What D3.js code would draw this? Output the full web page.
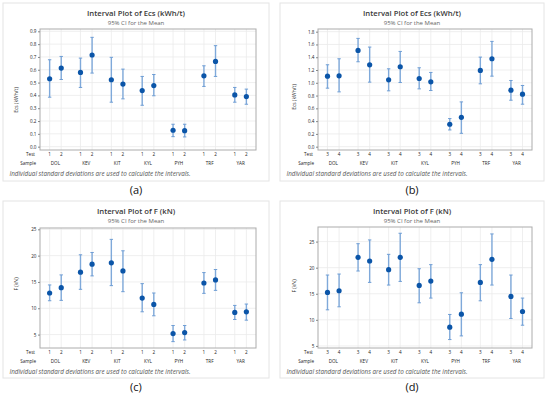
<!DOCTYPE html>
<html lang="en">
<head>
<script type="text/javascript" src="https://cdnjs.cloudflare.com/ajax/libs/d3/7.8.5/d3.min.js"></script>
<style>
    body { margin: 0; background: #fff; }
    text { font-family: "Open Sans", "Noto Sans", sans-serif; }
</style>
</head>
<body>
<div id="container"></div>
<script type="text/javascript">
    var w = 550;
    var h = 395;

    var samples = ["DOL", "KEV", "KIT", "KYL", "PYH", "TRF", "YAR"];
    var testsLeft = ["1", "2"];
    var testsRight = ["3", "4"];

    // (a) Ecs, tests 1-2
    var ecsMeanA  = [0.530, 0.613, 0.579, 0.715, 0.522, 0.488, 0.438, 0.477, 0.128, 0.125, 0.553, 0.665, 0.404, 0.391];
    var ecsLowA   = [0.386, 0.524, 0.462, 0.574, 0.347, 0.373, 0.323, 0.397, 0.078, 0.076, 0.470, 0.548, 0.347, 0.331];
    var ecsHighA  = [0.678, 0.704, 0.691, 0.853, 0.697, 0.605, 0.548, 0.563, 0.175, 0.175, 0.631, 0.788, 0.462, 0.449];
    var ecsTicksA = [0.0, 0.1, 0.2, 0.3, 0.4, 0.5, 0.6, 0.7, 0.8, 0.9];

    // (b) Ecs, tests 3-4
    var ecsMeanB  = [1.104, 1.109, 1.507, 1.282, 1.047, 1.251, 1.067, 1.015, 0.351, 0.460, 1.193, 1.376, 0.884, 0.822];
    var ecsLowB   = [0.916, 0.858, 1.329, 1.010, 0.874, 1.005, 0.905, 0.879, 0.262, 0.209, 0.984, 1.104, 0.727, 0.665];
    var ecsHighB  = [1.282, 1.376, 1.695, 1.559, 1.219, 1.491, 1.235, 1.162, 0.440, 0.701, 1.402, 1.648, 1.036, 0.958];
    var ecsTicksB = [0.0, 0.2, 0.4, 0.6, 0.8, 1.0, 1.2, 1.4, 1.6, 1.8];

    // (c) F, tests 1-2
    var fMeanC  = [12.90, 13.92, 16.85, 18.38, 18.63, 17.10, 11.94, 10.73, 5.19, 5.38, 14.80, 15.38, 9.20, 9.33];
    var fLowC   = [11.43, 11.50, 13.60, 16.15, 14.30, 13.15, 9.33, 8.57, 3.66, 3.98, 12.83, 13.40, 7.87, 7.74];
    var fHighC  = [14.43, 16.34, 20.16, 20.60, 23.09, 20.92, 14.68, 12.90, 6.72, 6.72, 16.78, 17.36, 10.54, 10.80];
    var fTicksC = [5, 10, 15, 20, 25];

    // (d) F, tests 3-4
    var fMeanD  = [15.26, 15.58, 21.99, 21.28, 19.62, 21.99, 16.60, 17.44, 8.59, 11.09, 17.18, 21.60, 14.49, 11.60];
    var fLowD   = [11.92, 12.50, 19.36, 17.18, 16.67, 17.37, 13.27, 14.17, 6.22, 6.92, 13.65, 16.67, 10.26, 8.97];
    var fHighD  = [18.59, 18.78, 24.60, 25.32, 22.56, 26.60, 19.80, 20.58, 11.03, 15.19, 20.58, 26.47, 18.59, 14.17];
    var fTicksD = [5, 10, 15, 20, 25];

    var panels = [
        {box: [3, 3, 269, 181], plot: [40, 29, 256, 150], labY: 100, title: "Interval Plot of Ecs (kWh/t)", ylab: "Ecs (kWh/t)",
         tests: testsLeft, mean: ecsMeanA, lo: ecsLowA, hi: ecsHighA, ticks: ecsTicksA, dom: [-0.026, 0.918], fmt: d3.format(".1f"), cap: "(a)"},
        {box: [280, 3, 544, 181], plot: [318, 29, 532, 150], labY: 97, title: "Interval Plot of Ecs (kWh/t)", ylab: "Ecs (kWh/t)",
         tests: testsRight, mean: ecsMeanB, lo: ecsLowB, hi: ecsHighB, ticks: ecsTicksB, dom: [-0.052, 1.842], fmt: d3.format(".1f"), cap: "(b)"},
        {box: [3, 201, 269, 378], plot: [40, 228, 256, 348], labY: 284, title: "Interval Plot of F (kN)", ylab: "F (kN)",
         tests: testsLeft, mean: fMeanC, lo: fLowC, hi: fHighC, ticks: fTicksC, dom: [2.45, 25.25], fmt: d3.format("d"), cap: "(c)"},
        {box: [280, 201, 544, 378], plot: [318, 227, 532, 348], labY: 286, title: "Interval Plot of F (kN)", ylab: "F (kN)",
         tests: testsRight, mean: fMeanD, lo: fLowD, hi: fHighD, ticks: fTicksD, dom: [4.6, 27.8], fmt: d3.format("d"), cap: "(d)"}
    ];

    var svg = d3.select("#container")
                .append("svg")
                .attr("width", w)
                .attr("height", h);

    panels.forEach(function(p) {
        var g = svg.append("g");
        var bx = p.box, pl = p.plot;

        g.append("rect")
            .attr("x", bx[0]).attr("y", bx[1])
            .attr("width", bx[2] - bx[0]).attr("height", bx[3] - bx[1])
            .attr("fill", "#fff").attr("stroke", "#e4e4e4").attr("stroke-width", 1);

        var cx = (bx[0] + bx[2]) / 2;
        g.append("text")
            .attr("x", cx).attr("y", bx[1] + 13)
            .attr("text-anchor", "middle")
            .attr("font-size", 7.7).attr("font-weight", 600)
            .attr("fill", "#3a3a3a")
            .text(p.title);
        g.append("text")
            .attr("x", cx).attr("y", bx[1] + 22)
            .attr("text-anchor", "middle")
            .attr("font-size", 6)
            .attr("fill", "#666")
            .text("95% CI for the Mean");

        var groups = d3.scaleBand().domain(samples).range([pl[0], pl[2]]);
        var inner = d3.scalePoint().domain(p.tests).range([-5.8, 5.8]);
        var y = d3.scaleLinear().domain(p.dom).range([pl[3], pl[1]]);

        var pts = [];
        samples.forEach(function(s, i) {
            p.tests.forEach(function(t, j) {
                var k = i * 2 + j;
                pts.push({s: s, t: t, m: p.mean[k], lo: p.lo[k], hi: p.hi[k]});
            });
        });
        function px(d) { return groups(d.s) + groups.bandwidth() / 2 + inner(d.t); }

        // gridlines
        g.selectAll(".hg").data(p.ticks).enter().append("line")
            .attr("x1", pl[0]).attr("x2", pl[2])
            .attr("y1", function(d) { return y(d); }).attr("y2", function(d) { return y(d); })
            .attr("stroke", "#ebebeb").attr("stroke-width", 0.8);
        g.selectAll(".vg").data(pts).enter().append("line")
            .attr("x1", px).attr("x2", px)
            .attr("y1", pl[1]).attr("y2", pl[3])
            .attr("stroke", "#ebebeb").attr("stroke-width", 0.8);

        g.append("rect")
            .attr("x", pl[0]).attr("y", pl[1])
            .attr("width", pl[2] - pl[0]).attr("height", pl[3] - pl[1])
            .attr("fill", "none").attr("stroke", "#acacac").attr("stroke-width", 1);

        // y axis
        var yAxis = d3.axisLeft(y).tickValues(p.ticks).tickFormat(p.fmt).tickSize(2).tickPadding(1.5);
        var ya = g.append("g").attr("transform", "translate(" + pl[0] + ",0)").call(yAxis);
        ya.select(".domain").remove();
        ya.selectAll("line").attr("stroke", "#888");
        ya.selectAll("text").attr("font-size", 4.6).attr("fill", "#222")
            .attr("font-family", "'Open Sans', sans-serif");

        g.append("text")
            .attr("transform", "translate(" + (pl[0] - 22) + "," + p.labY + ") rotate(-90)")
            .attr("text-anchor", "middle")
            .attr("font-size", 5).attr("fill", "#333")
            .text(p.ylab);

        // error bars
        var eb = g.selectAll(".eb").data(pts).enter().append("g");
        eb.append("line")
            .attr("x1", px).attr("x2", px)
            .attr("y1", function(d) { return y(d.lo); }).attr("y2", function(d) { return y(d.hi); })
            .attr("stroke", "#7fa9da").attr("stroke-width", 1.4);
        eb.append("line")
            .attr("x1", function(d) { return px(d) - 1.7; }).attr("x2", function(d) { return px(d) + 1.7; })
            .attr("y1", function(d) { return y(d.hi); }).attr("y2", function(d) { return y(d.hi); })
            .attr("stroke", "#6e9dd4").attr("stroke-width", 1);
        eb.append("line")
            .attr("x1", function(d) { return px(d) - 1.7; }).attr("x2", function(d) { return px(d) + 1.7; })
            .attr("y1", function(d) { return y(d.lo); }).attr("y2", function(d) { return y(d.lo); })
            .attr("stroke", "#6e9dd4").attr("stroke-width", 1);
        eb.append("circle")
            .attr("cx", px).attr("cy", function(d) { return y(d.m); })
            .attr("r", 2.6)
            .attr("fill", "#0b55a8");

        // category rows
        g.selectAll(".tl").data(pts).enter().append("text")
            .attr("x", px).attr("y", pl[3] + 5.8)
            .attr("text-anchor", "middle")
            .attr("font-size", 4.6).attr("fill", "#222")
            .text(function(d) { return d.t; });
        g.selectAll(".sl").data(samples).enter().append("text")
            .attr("x", function(d) { return groups(d) + groups.bandwidth() / 2; })
            .attr("y", pl[3] + 14.6)
            .attr("text-anchor", "middle")
            .attr("font-size", 4.6).attr("fill", "#222")
            .text(function(d) { return d; });
        g.append("text")
            .attr("x", pl[0] - 5).attr("y", pl[3] + 5.8)
            .attr("text-anchor", "end")
            .attr("font-size", 4.6).attr("fill", "#222")
            .text("Test");
        g.append("text")
            .attr("x", pl[0] - 4).attr("y", pl[3] + 14.6)
            .attr("text-anchor", "end")
            .attr("font-size", 4.6).attr("fill", "#222")
            .text("Sample");

        g.append("text")
            .attr("x", bx[0] + 6.5).attr("y", pl[3] + 26)
            .attr("font-size", 6.3).attr("font-style", "italic").attr("fill", "#555")
            .text("Individual standard deviations are used to calculate the intervals.");

        svg.append("text")
            .attr("x", cx).attr("y", bx[3] + 13)
            .attr("text-anchor", "middle")
            .attr("font-family", "'Liberation Serif', 'DejaVu Serif', serif")
            .attr("font-size", 11).attr("fill", "#111")
            .text(p.cap);
    });
</script>
</body>
</html>
